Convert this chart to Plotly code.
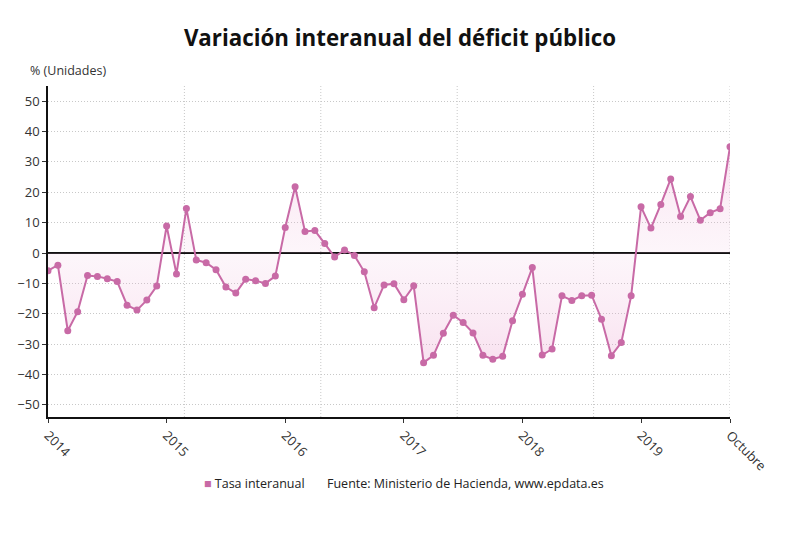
import plotly.graph_objects as go
import numpy as np

# Monthly data Jan 2014 - Oct 2019 (index positions 0..69)
valores = [
    -5.8, -4.0, -25.6, -19.3, -7.4, -7.7, -8.5, -9.4, -17.2, -18.8, -15.5, -10.9,   # 2014
    8.9, -6.9, 14.7, -2.3, -3.2, -5.5, -11.2, -13.2, -8.6, -9.1, -10.0, -7.6,       # 2015
    8.4, 21.8, 7.1, 7.4, 3.1, -1.3, 1.0, -0.8, -6.2, -18.0, -10.5, -10.1,            # 2016
    -15.4, -10.8, -36.1, -33.7, -26.4, -20.5, -22.9, -26.3, -33.7, -35.0, -34.0, -22.3,  # 2017
    -13.6, -4.8, -33.6, -31.6, -14.1, -15.6, -14.1, -13.9, -21.8, -33.8, -29.5, -14.1,   # 2018
    15.2, 8.2, 16.0, 24.4, 12.0, 18.6, 10.8, 13.3, 14.6, 35.0,                        # 2019
]
indices = list(range(len(valores)))
tick_pos = [0, 12, 24, 36, 48, 60, 69]
tick_labels = ["2014", "2015", "2016", "2017", "2018", "2019", "Octubre"]
y_ticks = [-50, -40, -30, -20, -10, 0, 10, 20, 30, 40, 50]

color = "#c86aa6"
font = "Open Sans, Noto Sans, sans-serif"

fig = go.Figure()
fig.add_trace(go.Scatter(
    x=indices, y=valores, mode="lines+markers",
    line=dict(color=color, width=2),
    marker=dict(color=color, size=7),
    fill="tozeroy",
    fillgradient=dict(type="vertical", start=-36, stop=36,
                      colorscale=[[0, "rgba(232,150,200,0.28)"],
                                  [0.5, "rgba(240,190,222,0.14)"],
                                  [1, "rgba(232,150,200,0.28)"]]),
    showlegend=False, name="Tasa interanual",
))

xmax = len(valores) - 1
shapes = []
for gx in np.linspace(0, xmax, 6)[1:]:
    shapes.append(dict(type="line", xref="x", yref="paper", x0=gx, x1=gx, y0=0, y1=1,
                       line=dict(color="#c8c8c8", width=1, dash="1px,2px"), layer="below"))

fig.update_layout(
    width=800, height=539,
    margin=dict(l=48, r=70, t=86, b=122),
    paper_bgcolor="white", plot_bgcolor="white",
    font=dict(family=font, size=12, color="#333333"),
    title=dict(text="<b>Variación interanual del déficit público</b>",
               x=0.5, xanchor="center", y=0.93, yanchor="middle",
               font=dict(size=22.3, color="#111111", family=font)),
    shapes=shapes,
    showlegend=False,
    annotations=[
        dict(text="% (Unidades)", xref="paper", yref="paper", x=-0.03, y=1.048,
             xanchor="left", yanchor="middle", showarrow=False,
             font=dict(size=12.5, color="#333333")),
        dict(text=f"<span style='color:{color}'>■</span> Tasa interanual",
             xref="paper", yref="paper",
             x=(202 - 48) / 682, y=-0.2, xanchor="left", yanchor="middle", showarrow=False,
             font=dict(size=12.5, color="#222222")),
        dict(text="Fuente: Ministerio de Hacienda, www.epdata.es", xref="paper", yref="paper",
             x=0.406, y=-0.2, xanchor="left", yanchor="middle", showarrow=False,
             font=dict(size=12.5, color="#222222")),
    ],
)
fig.update_xaxes(
    range=[0, xmax], tickvals=tick_pos, ticktext=tick_labels, tickangle=45,
    showgrid=False, zeroline=False,
    showline=True, linecolor="#111111", linewidth=1.5,
    ticks="outside", ticklen=4, tickcolor="#333333",
    tickfont=dict(size=13, color="#333333"),
)
fig.update_yaxes(
    range=[-54, 55], tickvals=y_ticks,
    showgrid=True, gridcolor="#c8c8c8", griddash="1px,2px", gridwidth=1,
    zeroline=True, zerolinecolor="#111111", zerolinewidth=1.5,
    showline=True, linecolor="#111111", linewidth=1.5,
    ticks="outside", ticklen=4, tickcolor="#333333",
    tickfont=dict(size=13, color="#333333"),
)

fig.write_html("out.html")
